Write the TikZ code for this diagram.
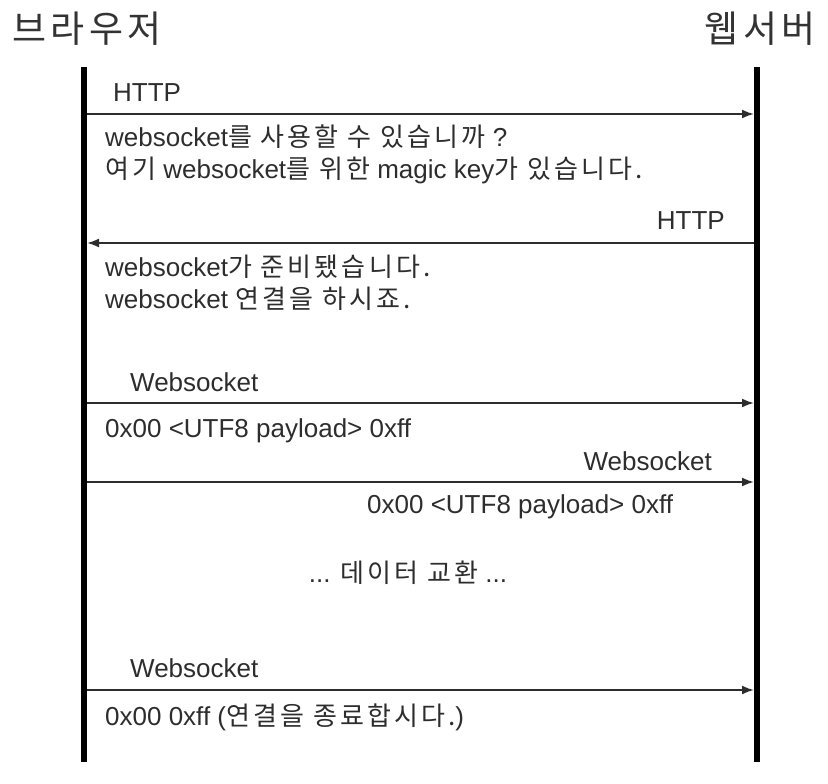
\documentclass[tikz,border=0pt]{standalone}
\usepackage{fontspec}
\setmainfont{Liberation Sans}
\newfontfamily\kr[LetterSpace=12]{Noto Sans CJK KR}
\newcommand{\K}[1]{{\kr #1}}
\usetikzlibrary{arrows.meta}
\definecolor{inkgray}{RGB}{45,45,45}
\tikzset{
  ptitle/.style   = {inner sep=0pt, font=\kr\fontsize{37}{37}\selectfont, text=black!80},
  lifeline/.style = {line width=6pt, draw=black},
  msg/.style      = {draw=inkgray, line width=2pt, -{Latex[length=12pt,width=9pt]}},
  mlabel/.style   = {inner sep=0pt, font=\fontsize{26}{32}\selectfont, text=inkgray},
  mnote/.style    = {mlabel, align=left},   % two-line remarks, anchored at the last line
}

\begin{document}
\begin{tikzpicture}[x=1pt, y=-1pt]
    \useasboundingbox (0,0) rectangle (828,784);

    \node[ptitle, anchor=base west] (brw) at (12,43)  {브라우저};
    \node[ptitle, anchor=base east] (srv) at (816,43) {웹서버};

    \coordinate (bt) at (84,67);  \coordinate (bb) at (84,762);
    \coordinate (st) at (757,67); \coordinate (sb) at (757,762);
    \draw[lifeline] (bt) -- (bb);
    \draw[lifeline] (st) -- (sb);

    % message end points on the two lifelines
    \coordinate (b1) at (87,114); \coordinate (s1) at (754,114);
    \coordinate (b2) at (87,243); \coordinate (s2) at (754,243);
    \coordinate (b3) at (87,403); \coordinate (s3) at (754,403);
    \coordinate (b4) at (87,482); \coordinate (s4) at (754,482);
    \coordinate (b5) at (87,690); \coordinate (s5) at (754,690);

    \draw[msg] (b1) -- (s1);
    \draw[msg] (s2) -- (b2);
    \draw[msg] (b3) -- (s3);
    \draw[msg] (b4) -- (s4);
    \draw[msg] (b5) -- (s5);

    \node[mlabel, anchor=base west] (l1) at (113,102) {HTTP};
    \node[mnote, anchor=base west] (n1) at (105,178)
      {websocket\K{를 사용할 수 있습니까} ?\\\K{여기} websocket\K{를 위한} magic key\K{가 있습니다.}};

    \node[mlabel, anchor=base east] (l2) at (725,229) {HTTP};
    \node[mnote, anchor=base west] (n2) at (105,308)
      {websocket\K{가 준비됐습니다.}\\websocket \K{연결을 하시죠.}};

    \node[mlabel, anchor=base west] (l3) at (130,391) {Websocket};
    \node[mlabel, anchor=base west] (n3) at (105,437) {0x00 <UTF8 payload> 0xff};

    \node[mlabel, anchor=base east] (l4) at (712,470) {Websocket};
    \node[mlabel, anchor=base west] (n4) at (367,513) {0x00 <UTF8 payload> 0xff};

    \node[mlabel, anchor=base] (xchg) at (408,582) {... \K{데이터 교환} ...};

    \node[mlabel, anchor=base west] (l5) at (130,677) {Websocket};
    \node[mlabel, anchor=base west] (n5) at (105,725) {0x00 0xff (\K{연결을 종료합시다.})};
  \end{tikzpicture}
\end{document}
